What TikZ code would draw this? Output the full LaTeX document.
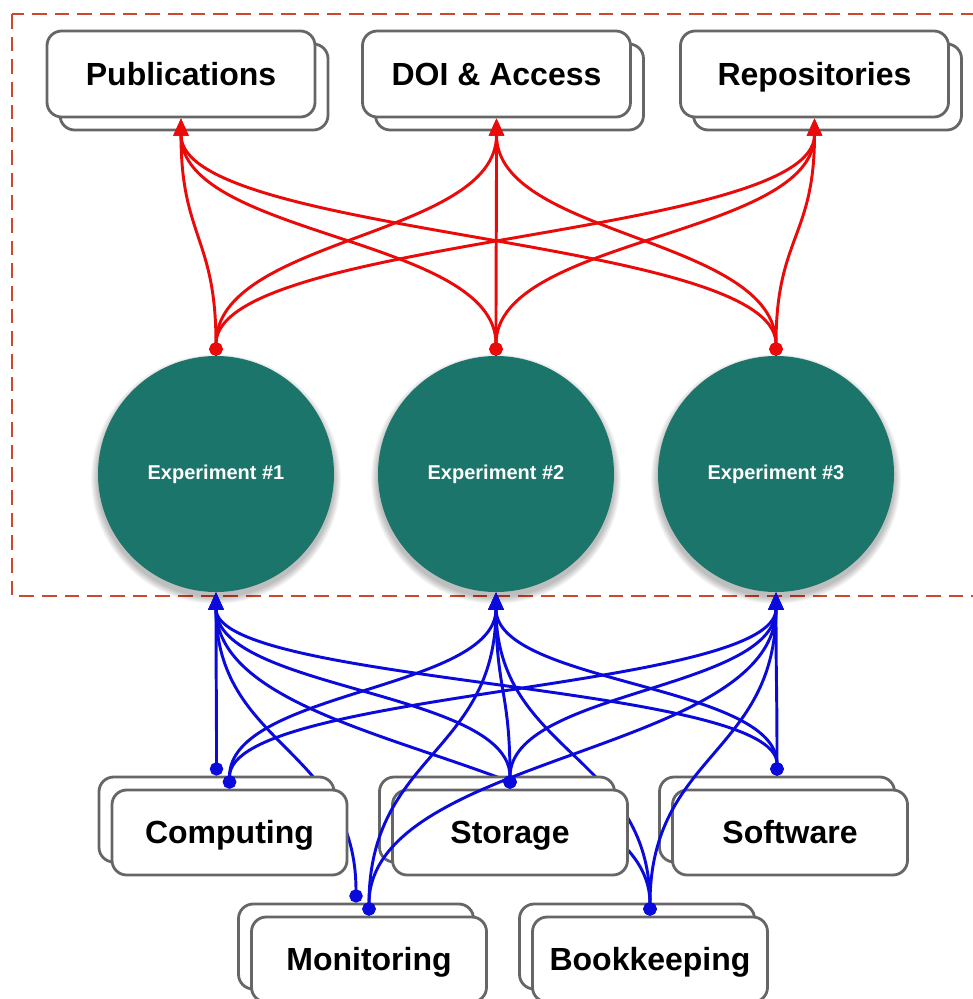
\documentclass[tikz,border=0pt]{standalone}
\usepackage{fontspec}
\setmainfont{Liberation Sans}
\usetikzlibrary{arrows.meta,calc}
\definecolor{tealC}{RGB}{27,117,106}
\definecolor{frameC}{RGB}{205,72,45}
\definecolor{boxC}{RGB}{102,102,102}
\definecolor{blueC}{RGB}{10,10,220}
\definecolor{redC}{RGB}{235,10,10}
\tikzset{
  topbox/.style={draw=boxC, line width=2.1pt, rounded corners=11pt, fill=white,
    minimum width=201pt, minimum height=64.5pt, inner sep=0pt,
    text height=17.2pt, text depth=0pt,
    font=\fontsize{24}{28}\selectfont\bfseries},
  botbox/.style={topbox, minimum width=176.25pt, minimum height=63.75pt},
  expnode/.style={circle, fill=tealC, minimum size=177pt, inner sep=0pt,
    text=white, font=\fontsize{15}{18}\selectfont\bfseries},
  redline/.style={draw=redC, line width=2.2pt,
    {Circle[length=10pt]}-{Triangle[length=13pt,width=11pt]}},
  blueline/.style={draw=blueC, line width=2.2pt,
    {Circle[length=10pt]}-{Triangle[length=13pt,width=11pt]}},
}
\newcommand\conn[3]{\path ($(#2)!0.5!(#3)$) coordinate (mid);
  \draw[#1] (#2) .. controls (#2 |- mid) and (#3 |- mid) .. (#3);}
\begin{document}
\begin{tikzpicture}[x=0.75pt,y=-0.75pt]
\useasboundingbox (0,0) rectangle (973,999);
\clip (0,0) rectangle (973,999);
\fill[white] (0,0) rectangle (973,999);
\draw[frameC, line width=2pt, dash pattern=on 11pt off 6pt] (12,14) rectangle (1000,596);

% shadows of the experiment circles
\foreach \cx in {216,496,776}{
  \foreach \k in {1,...,7}{
    \fill[black, opacity=0.04] (\cx,479) circle[radius={88pt+\k*0.8pt}];
  }
}
\node[expnode] (e1) at (216,474) {Experiment \#1};
\node[expnode] (e2) at (496,474) {Experiment \#2};
\node[expnode] (e3) at (776,474) {Experiment \#3};

% top boxes
\node[topbox] (pubB) at (194,87) {};
\node[topbox] (pub) at (181,74) {Publications};
\node[topbox] (doiB) at (509.5,87) {};
\node[topbox] (doi) at (496.5,74) {DOI \& Access};
\node[topbox] (repoB) at (827.5,87) {};
\node[topbox] (repo) at (814.5,74) {Repositories};

% lower row boxes
\node[botbox] (monB) at (356,946.5) {};
\node[botbox] (mon) at (369,959.5) {Monitoring};
\node[botbox] (bookB) at (637,946.5) {};
\node[botbox] (book) at (650,959.5) {Bookkeeping};

% connectors hidden behind upper row boxes
\conn{blueline}{monB.north}{e1.south}
\conn{blueline}{book.north}{e1.south}
\conn{blueline}{book.north}{e2.south}

% upper row boxes
\node[botbox] (compB) at (216.5,819.5) {};
\node[botbox] (comp) at (229.5,832.5) {Computing};
\node[botbox] (storB) at (497,819.5) {};
\node[botbox] (stor) at (510,832.5) {Storage};
\node[botbox] (softB) at (777,819.5) {};
\node[botbox] (soft) at (790,832.5) {Software};

% visible blue connectors
\conn{blueline}{compB.north}{e1.south}
\conn{blueline}{comp.north}{e2.south}
\conn{blueline}{comp.north}{e3.south}
\conn{blueline}{mon.north}{e2.south}
\conn{blueline}{mon.north}{e3.south}
\conn{blueline}{stor.north}{e1.south}
\conn{blueline}{stor.north}{e2.south}
\conn{blueline}{stor.north}{e3.south}
\conn{blueline}{softB.north}{e1.south}
\conn{blueline}{softB.north}{e2.south}
\conn{blueline}{softB.north}{e3.south}
\conn{blueline}{book.north}{e3.south}

% red connectors
\conn{redline}{e1.north}{pub.south}
\conn{redline}{e1.north}{doi.south}
\conn{redline}{e1.north}{repo.south}
\conn{redline}{e2.north}{pub.south}
\conn{redline}{e2.north}{doi.south}
\conn{redline}{e2.north}{repo.south}
\conn{redline}{e3.north}{pub.south}
\conn{redline}{e3.north}{doi.south}
\conn{redline}{e3.north}{repo.south}
\end{tikzpicture}
\end{document}
